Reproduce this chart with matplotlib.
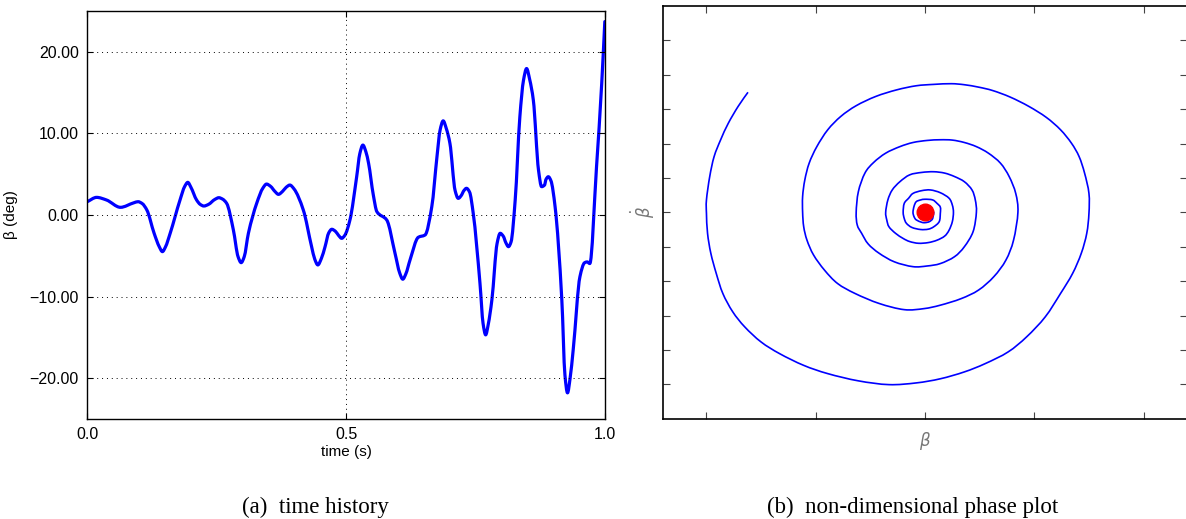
import numpy as np
import matplotlib.pyplot as plt
from matplotlib.path import Path
from matplotlib.patches import PathPatch
from matplotlib.ticker import FuncFormatter

# (a) time history
t = [0.000, 0.018, 0.037, 0.064, 0.090, 0.098, 0.106, 0.115, 0.129, 0.139, 0.145, 0.151,
     0.160, 0.179, 0.188, 0.194, 0.200, 0.211, 0.218, 0.225, 0.234, 0.246, 0.254, 0.261,
     0.269, 0.282, 0.291, 0.297, 0.303, 0.311, 0.327, 0.339, 0.346, 0.354, 0.362, 0.369,
     0.377, 0.384, 0.391, 0.399, 0.417, 0.433, 0.439, 0.445, 0.452, 0.459, 0.466, 0.472,
     0.479, 0.485, 0.491, 0.497, 0.507, 0.520, 0.526, 0.532, 0.538, 0.543, 0.552, 0.559,
     0.578, 0.594, 0.603, 0.609, 0.615, 0.623, 0.639, 0.652, 0.665, 0.675, 0.681, 0.687,
     0.693, 0.700, 0.710, 0.716, 0.723, 0.726, 0.732, 0.738, 0.745, 0.758, 0.764, 0.769,
     0.774, 0.781, 0.791, 0.797, 0.803, 0.808, 0.813, 0.818, 0.826, 0.835, 0.842, 0.848,
     0.854, 0.861, 0.871, 0.877, 0.883, 0.885, 0.890, 0.895, 0.903, 0.916, 0.922, 0.927,
     0.932, 0.938, 0.951, 0.960, 0.965, 0.970, 0.983, 0.993, 0.999]
beta_deg = [1.63, 2.16, 1.84, 0.94, 1.50, 1.63, 1.40, 0.61, -2.24, -3.9, -4.49, -3.9,
            -2.24, 1.84, 3.5, 4.00, 3.4, 1.84, 1.3, 1.10, 1.3, 1.9, 2.12, 1.95,
            1.43, -1.84, -5.1, -5.84, -5.1, -2.24, 1.43, 3.3, 3.79, 3.5, 2.9, 2.53,
            2.9, 3.4, 3.67, 3.2, 0.61, -3.88, -5.4, -6.12, -5.3, -3.88, -2.2, -1.75,
            -2.0, -2.5, -2.86, -2.5, -0.61, 4.69, 7.5, 8.57, 7.7, 6.33, 2.5, 0.41,
            -0.61, -4.69, -7.1, -7.87, -7.2, -5.51, -2.73, -2.45, 1.02, 7.14, 10.4, 11.54,
            10.6, 8.78, 3.0, 2.04, 2.5, 2.9, 3.27, 2.8, 0.20, -8.36, -13.3, -14.69,
            -13.4, -10.40, -3.5, -2.24, -2.6, -3.4, -3.88, -3.3, 1.84, 12.03, 16.5, 17.95,
            16.6, 14.08, 5.5, 3.47, 3.7, 4.3, 4.69, 4.2, 1.02, -10.40, -19.6, -21.8,
            -20.0, -16.5, -7.55, -5.85, -5.75, -5.95, 5.91, 16.1, 23.7]

# (b) phase plot, non-dimensional beta vs beta-dot
beta_nd = [-1.62, -1.71, -1.80, -1.87, -1.93, -1.97, -2.00, -2.00, -1.99, -1.96,
           -1.91, -1.85, -1.76, -1.65, -1.50, -1.33, -1.11, -0.89, -0.61, -0.33,
           -0.08, 0.14, 0.36, 0.55, 0.76, 0.93, 1.10, 1.24, 1.35, 1.43,
           1.48, 1.50, 1.50, 1.46, 1.41, 1.34, 1.24, 1.11, 0.95, 0.78,
           0.62, 0.49, 0.36, 0.24, 0.08, -0.08, -0.26, -0.45, -0.63, -0.77,
           -0.89, -0.99, -1.06, -1.10, -1.12, -1.12, -1.11, -1.08, -1.02, -0.92,
           -0.80, -0.64, -0.42, -0.19, -0.01, 0.14, 0.33, 0.49, 0.63, 0.74,
           0.81, 0.85, 0.83, 0.77, 0.69, 0.58, 0.47, 0.36, 0.25, 0.14,
           0.02, -0.11, -0.23, -0.36, -0.47, -0.55, -0.61, -0.63, -0.62, -0.58,
           -0.52, -0.42, -0.28, -0.11, 0.02, 0.14, 0.27, 0.36, 0.44, 0.47,
           0.46, 0.43, 0.36, 0.27, 0.18, 0.08, -0.03, -0.14, -0.23, -0.30,
           -0.34, -0.36, -0.35, -0.33, -0.27, -0.20, -0.14, -0.06, 0.03, 0.11,
           0.18, 0.22, 0.25, 0.26, 0.25, 0.22, 0.14, 0.05, -0.03, -0.11,
           -0.15, -0.19, -0.20, -0.19, -0.17, -0.12, -0.04, 0.03, 0.08, 0.13,
           0.14, 0.14, 0.11, 0.07, 0.00, -0.04, -0.08, -0.10, -0.11, -0.10,
           -0.08, -0.03, 0.00, 0.04, 0.07, 0.08]
beta_dot_nd = [3.49, 3.08, 2.59, 2.11, 1.62, 1.04, 0.36, -0.03, -0.61, -1.19,
               -1.78, -2.36, -2.89, -3.33, -3.77, -4.11, -4.45, -4.69, -4.90, -5.01,
               -4.96, -4.84, -4.64, -4.40, -4.06, -3.62, -3.04, -2.36, -1.78, -1.19,
               -0.61, -0.03, 0.55, 1.14, 1.62, 2.01, 2.40, 2.76, 3.08, 3.35,
               3.54, 3.64, 3.71, 3.74, 3.72, 3.68, 3.56, 3.37, 3.10, 2.79,
               2.40, 1.91, 1.43, 0.94, 0.46, 0.00, -0.42, -0.81, -1.24, -1.68,
               -2.07, -2.36, -2.65, -2.83, -2.80, -2.70, -2.51, -2.26, -1.87, -1.39,
               -0.81, 0.00, 0.55, 1.04, 1.43, 1.72, 1.91, 2.03, 2.10, 2.11,
               2.09, 2.03, 1.91, 1.72, 1.45, 1.14, 0.60, 0.00, -0.37, -0.61,
               -0.92, -1.19, -1.44, -1.58, -1.56, -1.49, -1.29, -1.00, -0.56, 0.00,
               0.36, 0.65, 0.89, 1.04, 1.14, 1.18, 1.16, 1.09, 0.89, 0.65,
               0.36, 0.00, -0.22, -0.42, -0.61, -0.76, -0.85, -0.90, -0.88, -0.81,
               -0.69, -0.52, -0.27, 0.00, 0.21, 0.41, 0.57, 0.65, 0.63, 0.55,
               0.41, 0.26, 0.00, -0.18, -0.32, -0.44, -0.50, -0.49, -0.42, -0.27,
               -0.03, 0.15, 0.26, 0.36, 0.38, 0.36, 0.31, 0.18, 0.00, -0.13,
               -0.22, -0.29, -0.30, -0.27, -0.18, 0.02]
equilibrium = (0.0, 0.0)


def curve_path(x, y):
    # catmull-rom style cubic bezier passing through every read point
    p = np.column_stack([x, y])
    ext = np.vstack([p[0], p, p[-1]])
    verts = [p[0]]
    codes = [Path.MOVETO]
    for i in range(1, len(ext) - 2):
        c1 = ext[i] + (ext[i + 1] - ext[i - 1]) / 6
        c2 = ext[i + 1] - (ext[i + 2] - ext[i]) / 6
        verts += [c1, c2, ext[i + 1]]
        codes += [Path.CURVE4] * 3
    return Path(verts, codes)


def series_path(x, y):
    # monotone (pchip-like) tangents so the bezier does not overshoot
    x = np.asarray(x, float)
    y = np.asarray(y, float)
    h = np.diff(x)
    d = np.diff(y) / h
    m = np.zeros_like(y)
    m[0], m[-1] = d[0], d[-1]
    for i in range(1, len(y) - 1):
        if d[i - 1] * d[i] > 0:
            w1 = 2 * h[i] + h[i - 1]
            w2 = h[i] + 2 * h[i - 1]
            m[i] = (w1 + w2) / (w1 / d[i - 1] + w2 / d[i])
    verts = [(x[0], y[0])]
    codes = [Path.MOVETO]
    for i in range(len(x) - 1):
        verts += [(x[i] + h[i] / 3, y[i] + m[i] * h[i] / 3),
                  (x[i + 1] - h[i] / 3, y[i + 1] - m[i + 1] * h[i] / 3),
                  (x[i + 1], y[i + 1])]
        codes += [Path.CURVE4] * 3
    return Path(verts, codes)


plt.rcParams['font.family'] = ['Liberation Sans', 'DejaVu Sans']

fig = plt.figure(figsize=(11.86, 5.19), dpi=100)
axA = fig.add_axes([0.0736, 0.1927, 0.4368, 0.7861])
axB = fig.add_axes([0.5588, 0.1933, 0.4423, 0.7952])

# Panel (a)
axA.add_patch(PathPatch(series_path(t, beta_deg), fill=False, edgecolor='#0000ff',
                        lw=2.3, joinstyle='round', capstyle='round'))
axA.set_xlim(0, 1)
axA.set_ylim(-25, 25)
axA.set_xticks([0, 0.5, 1.0])
axA.set_yticks([-20, -10, 0, 10, 20])
axA.xaxis.set_major_formatter(FuncFormatter(lambda v, p: f"{v:.1f}"))
axA.yaxis.set_major_formatter(FuncFormatter(lambda v, p: f"{v:.2f}".replace('-', '\u2212')))
axA.grid(True, color='black', linestyle=(0, (1, 4)), linewidth=0.7)
axA.tick_params(direction='in', length=4, width=0.8, top=True, right=True,
                labelsize=11.5, pad=6)
axA.set_xlabel('time (s)', fontsize=11, labelpad=2)
axA.set_ylabel('\u03b2 (deg)', fontsize=11, labelpad=8)
for s in axA.spines.values():
    s.set_linewidth(1.0)

# Panel (b)
axB.add_patch(PathPatch(curve_path(beta_nd, beta_dot_nd), fill=False,
                        edgecolor='#0000ff', lw=1.2))
axB.plot(*equilibrium, 'o', color='#ff0000', markersize=12, zorder=5)
axB.set_xlim(-2.4, 2.4)
axB.set_ylim(-6, 6)
axB.set_xticks([-2, -1, 0, 1, 2])
axB.set_yticks([-5, -4, -3, -2, -1, 0, 1, 2, 3, 4, 5])
axB.tick_params(direction='in', length=5, width=0.8, top=True, right=True,
                labelbottom=False, labelleft=False, color='#444444')
axB.set_xlabel(r'$\beta$', fontsize=12, color='#777777', labelpad=8)
axB.set_ylabel(r'$\dot{\beta}$', fontsize=12, color='#777777', labelpad=4)
for s in axB.spines.values():
    s.set_linewidth(1.2)

fig.text(0.2656, 0.022, '(a)  time history', family='Liberation Serif',
         fontsize=16.5, ha='center', va='center')
fig.text(0.7698, 0.022, '(b)  non-dimensional phase plot', family='Liberation Serif',
         fontsize=16.5, ha='center', va='center')

fig.savefig('out.png', dpi=100)
